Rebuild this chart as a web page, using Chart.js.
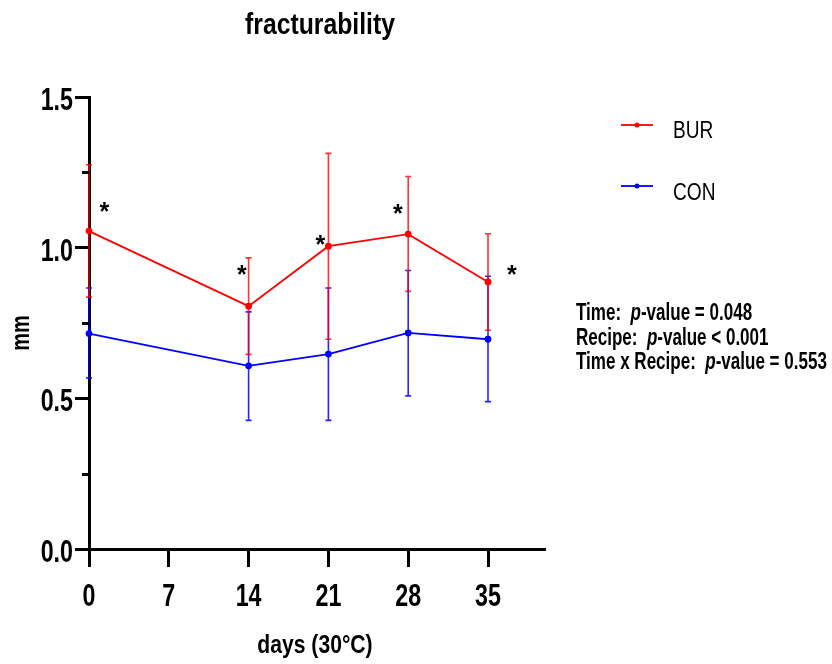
<!DOCTYPE html>
<html>
<head>
<meta charset="utf-8">
<title>fracturability</title>
<script src="https://cdn.jsdelivr.net/npm/chart.js@4.4.1/dist/chart.umd.min.js"></script>
<style>
  html, body { margin: 0; padding: 0; background: #fff; }
  canvas { display: block; }
</style>
</head>
<body>
<canvas id="chart" width="832" height="664"></canvas>
<script>
  "use strict";

  const FONT = '"Liberation Sans", Arial, sans-serif';

  // storage day and group means / error limits
  const days = [0, 14, 21, 28, 35];
  const burMean = [1.055, 0.806, 1.005, 1.045, 0.886];
  const burUpper = [1.275, 0.966, 1.313, 1.236, 1.046];
  const burLower = [0.836, 0.646, 0.696, 0.855, 0.726];
  const conMean = [0.715, 0.608, 0.647, 0.717, 0.696];
  const conUpper = [0.866, 0.787, 0.866, 0.924, 0.905];
  const conLower = [0.568, 0.427, 0.427, 0.508, 0.489];

  const xTicks = [0, 7, 14, 21, 28, 35];
  const yTicks = [0, 0.5, 1.0, 1.5];
  const yMinorTicks = [0.25, 0.75, 1.25];

  // significance marks (*) — position in data units
  const starDays = [1.35, 13.4, 20.3, 27.1, 37.1];
  const starValues = [1.135, 0.926, 1.027, 1.127, 0.926];

  const seriesNames = ["BUR", "CON"];
  const seriesColors = ["#ff0000", "#0000ff"];
  const statsLines = [
    ["Time:  ", "p", "-value = 0.048"],
    ["Recipe:  ", "p", "-value < 0.001"],
    ["Time x Recipe:  ", "p", "-value = 0.553"],
  ];

  function toPoints(values) {
    return days.map((d, i) => ({ x: d, y: values[i] }));
  }

  // the original uses a narrow sans; squeeze Liberation Sans horizontally
  function narrowText(ctx, text, x, y, font, sx, align) {
    ctx.save();
    ctx.font = font;
    ctx.textAlign = align || "left";
    ctx.textBaseline = "alphabetic";
    ctx.translate(x, y);
    ctx.scale(sx, 1);
    ctx.fillText(text, 0, 0);
    const w = ctx.measureText(text).width * sx;
    ctx.restore();
    return w;
  }

  const errorBars = {
    id: "errorBars",
    beforeDatasetsDraw(chart) {
      const { ctx, scales: { x, y } } = chart;
      const groups = [
        { lo: conLower, hi: conUpper, color: "rgba(0,0,255,0.85)" },
        { lo: burLower, hi: burUpper, color: "rgba(255,0,0,0.8)" },
      ];
      ctx.save();
      ctx.lineWidth = 1.6;
      groups.forEach((g) => {
        ctx.strokeStyle = g.color;
        days.forEach((d, i) => {
          const px = x.getPixelForValue(d);
          const top = y.getPixelForValue(g.hi[i]);
          const bot = y.getPixelForValue(g.lo[i]);
          ctx.beginPath();
          ctx.moveTo(px, top);
          ctx.lineTo(px, bot);
          ctx.moveTo(px - 3, top);
          ctx.lineTo(px + 3, top);
          ctx.moveTo(px - 3, bot);
          ctx.lineTo(px + 3, bot);
          ctx.stroke();
        });
      });
      ctx.restore();
    },
  };

  const decorations = {
    id: "decorations",
    afterDraw(chart) {
      const { ctx, chartArea, scales: { x, y } } = chart;
      ctx.save();
      ctx.fillStyle = "#000";

      // minor y ticks
      ctx.strokeStyle = "#000";
      ctx.lineWidth = 3;
      yMinorTicks.forEach((v) => {
        const py = Math.round(y.getPixelForValue(v)) + 0.5;
        ctx.beginPath();
        ctx.moveTo(chartArea.left - 7, py);
        ctx.lineTo(chartArea.left, py);
        ctx.stroke();
      });

      // tick labels
      const tickFont = "bold 31px " + FONT;
      x.ticks.forEach((t) => {
        narrowText(ctx, String(t.value), x.getPixelForValue(t.value), 606, tickFont, 0.75, "center");
      });
      y.ticks.forEach((t) => {
        narrowText(ctx, t.value.toFixed(1), 73, y.getPixelForValue(t.value) + 13, tickFont, 0.75, "right");
      });

      // titles
      narrowText(ctx, "fracturability", 320, 34, "bold 30px " + FONT, 0.825, "center");
      narrowText(ctx, "days (30°C)", 315, 653, "bold 25px " + FONT, 0.845, "center");
      ctx.save();
      ctx.translate(29, 333);
      ctx.rotate(-Math.PI / 2);
      narrowText(ctx, "mm", 0, 0, "bold 25px " + FONT, 0.8, "center");
      ctx.restore();

      // asterisks
      ctx.font = "bold 25px " + FONT;
      ctx.textAlign = "center";
      const m = ctx.measureText("*");
      const mid = (m.actualBoundingBoxAscent - m.actualBoundingBoxDescent) / 2;
      starDays.forEach((d, i) => {
        ctx.fillText("*", x.getPixelForValue(d), y.getPixelForValue(starValues[i]) + mid);
      });

      // legend
      const legendY = [125, 186];
      const legendBase = [137.5, 199.5];
      seriesNames.forEach((name, i) => {
        ctx.strokeStyle = seriesColors[i];
        ctx.fillStyle = seriesColors[i];
        ctx.lineWidth = 1.8;
        ctx.beginPath();
        ctx.moveTo(621, legendY[i]);
        ctx.lineTo(653, legendY[i]);
        ctx.stroke();
        ctx.beginPath();
        ctx.arc(637, legendY[i], 2.5, 0, Math.PI * 2);
        ctx.fill();
        ctx.fillStyle = "#000";
        narrowText(ctx, name, 673, legendBase[i], "23px " + FONT, 0.83, "left");
      });

      // statistics
      statsLines.forEach((parts, i) => {
        let px = 576;
        const py = 320 + i * 24.5;
        parts.forEach((txt, j) => {
          const f = (j === 1 ? "italic bold 23px " : "bold 23px ") + FONT;
          px += narrowText(ctx, txt, px, py, f, 0.74, "left");
        });
      });

      ctx.restore();
    },
  };

  new Chart(document.getElementById("chart"), {
    type: "line",
    data: {
      datasets: [
        {
          label: seriesNames[1],
          data: toPoints(conMean),
          borderColor: seriesColors[1],
          backgroundColor: seriesColors[1],
          borderWidth: 1.8,
          pointRadius: 2.5,
          pointHoverRadius: 2.5,
          tension: 0,
          clip: false,
        },
        {
          label: seriesNames[0],
          data: toPoints(burMean),
          borderColor: seriesColors[0],
          backgroundColor: seriesColors[0],
          borderWidth: 1.8,
          pointRadius: 2.5,
          pointHoverRadius: 2.5,
          tension: 0,
          clip: false,
        },
      ],
    },
    options: {
      responsive: false,
      animation: false,
      events: [],
      layout: { padding: { top: 97, right: 287, bottom: 0, left: 0 } },
      plugins: { legend: { display: false }, title: { display: false }, tooltip: { enabled: false } },
      scales: {
        x: {
          type: "linear",
          min: 0,
          max: 40,
          afterBuildTicks: (s) => { s.ticks = xTicks.map((v) => ({ value: v })); },
          afterFit: (s) => { s.height = 115; },
          ticks: { display: false },
          grid: { drawOnChartArea: false, drawTicks: true, tickLength: 18, tickWidth: 3, tickColor: "#000" },
          border: { display: true, color: "#000", width: 3 },
        },
        y: {
          min: 0,
          max: 1.5,
          afterBuildTicks: (s) => { s.ticks = yTicks.map((v) => ({ value: v })); },
          afterFit: (s) => { s.width = 89; },
          ticks: { display: false },
          grid: { drawOnChartArea: false, drawTicks: true, tickLength: 14, tickWidth: 3, tickColor: "#000" },
          border: { display: true, color: "#000", width: 3 },
        },
      },
    },
    plugins: [errorBars, decorations],
  });
</script>
</body>
</html>
